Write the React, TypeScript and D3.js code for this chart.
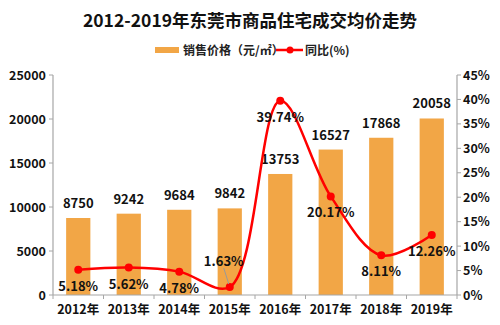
import React from "react";
import * as d3 from "d3";

const years = ["2012年", "2013年", "2014年", "2015年", "2016年", "2017年", "2018年", "2019年"];
const prices = [8750, 9242, 9684, 9842, 13753, 16527, 17868, 20058];
const yoy = [5.18, 5.62, 4.78, 1.63, 39.74, 20.17, 8.11, 12.26];
const leftTicks = [0, 5000, 10000, 15000, 20000, 25000];
const rightTicks = [0, 5, 10, 15, 20, 25, 30, 35, 40, 45];

const W = 500, H = 325;
const L = 53, R = 457, T = 75, B = 295;
const FONT = "'Noto Sans CJK SC', 'Noto Sans', sans-serif";
const BAR = "#F2A646";
const RED = "#FF0000";
const AXIS = "#A6A6A6";

export default function App() {
  const x = d3.scaleBand().domain(years).range([L, R]).paddingInner(0.52).paddingOuter(0.26);
  const band = d3.scaleBand().domain(years).range([L, R]);
  const yL = d3.scaleLinear().domain([0, 25000]).range([B, T]);
  const yR = d3.scaleLinear().domain([0, 45]).range([B, T]);
  const cx = (i: number) => (band(years[i]) as number) + band.bandwidth() / 2;
  const pts: [number, number][] = yoy.map((v, i) => [cx(i), yR(v)]);
  const line = d3.line().curve(d3.curveCatmullRom.alpha(0.5))(pts) as string;

  return (
    <svg width={W} height={H} style={{ position: "absolute", left: 0, top: 0, background: "#fff" }} fontFamily={FONT}>
      <text x={250} y={27} textAnchor="middle" fontSize={17.5} fontWeight="bold" fill="#111">
        2012-2019年东莞市商品住宅成交均价走势
      </text>
      {/* legend */}
      <rect x={155} y={47} width={24} height={6} fill={BAR} />
      <text x={183} y={54.5} fontSize={12} fontWeight="bold" fill="#222">销售价格（元/㎡）</text>
      <line x1={276} x2={303} y1={50} y2={50} stroke={RED} strokeWidth={2.5} />
      <circle cx={290} cy={50} r={3.5} fill={RED} />
      <text x={305} y={54.5} fontSize={12} fontWeight="bold" fill="#222">同比(%)</text>

      {/* bars */}
      {prices.map((v, i) => (
        <rect key={i} x={x(years[i])} y={yL(v)} width={x.bandwidth()} height={B - yL(v)} fill={BAR} />
      ))}
      {prices.map((v, i) => (
        <text key={"bl" + i} x={cx(i)} y={yL(v) - 10} textAnchor="middle" fontSize={13} fontWeight="bold" fill="#111">
          {v}
        </text>
      ))}

      {/* axes */}
      <line x1={L} x2={L} y1={T} y2={B} stroke={AXIS} strokeWidth={1.2} />
      <line x1={R} x2={R} y1={T} y2={B} stroke={AXIS} strokeWidth={1.2} />
      <line x1={L} x2={R} y1={B} y2={B} stroke={AXIS} strokeWidth={1.2} />
      {leftTicks.map((t) => (
        <g key={"lt" + t}>
          <line x1={L - 4} x2={L} y1={yL(t)} y2={yL(t)} stroke={AXIS} />
          <text x={L - 7} y={yL(t) + 4.5} textAnchor="end" fontSize={12.5} fontWeight="bold" fill="#111">{t}</text>
        </g>
      ))}
      {rightTicks.map((t) => (
        <g key={"rt" + t}>
          <line x1={R} x2={R + 4} y1={yR(t)} y2={yR(t)} stroke={AXIS} />
          <text x={R + 6} y={yR(t) + 4.5} textAnchor="start" fontSize={12.5} fontWeight="bold" fill="#111">{t}%</text>
        </g>
      ))}
      {years.map((yv, i) => (
        <g key={"xt" + i}>
          <line x1={band(yv) as number} x2={band(yv) as number} y1={B} y2={B + 4} stroke={AXIS} />
          <text x={cx(i)} y={B + 19} textAnchor="middle" fontSize={12.5} fontWeight="bold" fill="#111">{yv}</text>
        </g>
      ))}
      <line x1={R} x2={R} y1={B} y2={B + 4} stroke={AXIS} />

      {/* line */}
      <path d={line} fill="none" stroke={RED} strokeWidth={2.5} />
      {pts.map((p, i) => (
        <circle key={"pt" + i} cx={p[0]} cy={p[1]} r={4} fill={RED} />
      ))}
      {yoy.map((v, i) => {
        if (i === 3) {
          return (
            <g key={"pl" + i}>
              <line x1={cx(i) - 6} y1={pts[i][1] - 19} x2={cx(i) - 1} y2={pts[i][1] - 3} stroke="#999" strokeWidth={1} />
              <text x={cx(i) - 6} y={pts[i][1] - 21} textAnchor="middle" fontSize={13} fontWeight="bold" fill="#111">{v.toFixed(2)}%</text>
            </g>
          );
        }
        return (
          <text key={"pl" + i} x={cx(i)} y={pts[i][1] + 21} textAnchor="middle" fontSize={13} fontWeight="bold" fill="#111">
            {v.toFixed(2)}%
          </text>
        );
      })}
    </svg>
  );
}
